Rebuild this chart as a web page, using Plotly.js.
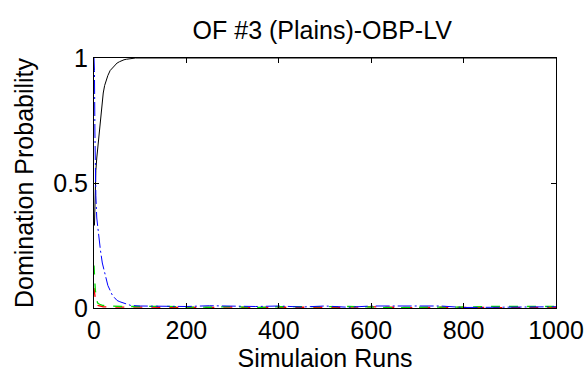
<!DOCTYPE html>
<html><head><meta charset="utf-8">
<script src="https://cdn.plot.ly/plotly-3.0.1.min.js"></script>
<style>body{margin:0;background:#fff}#c{width:587px;height:374px}</style>
</head><body><div id="c"></div>
<script>
const chartTitle = "OF #3 (Plains)-OBP-LV";
const xTitle = "Simulaion Runs";
const yTitle = "Domination Probability";
const xTicks = [0,200,400,600,800,1000];
const yTicks = [0,0.5,1];
const yTickText = ['0','0.5','1'];

const xBlack = [1,2,3,4,6,8,10,12,14,16,18,20,23,26,30,35,40,45,50,55,60,65,70,80,90,1000];
const yBlack = [0.33,0.45,0.5,0.55,0.6,0.64,0.68,0.72,0.76,0.8,0.84,0.86,0.89,0.91,0.93,0.95,0.96,0.97,0.98,0.985,0.99,0.993,0.995,0.997,1,1];

const xBlue = [0,1,2,3,4,6,8,10,14,18,22,26,30,35,40,45,50,56,65,80,100,150,200,250,300,350,400,450,500,550,600,650,700,750,800,850,900,950,1000];
const yBlue = [1,0.95,0.7,0.5,0.45,0.36,0.32,0.28,0.23,0.18,0.15,0.12,0.09,0.07,0.05,0.04,0.03,0.025,0.02,0.01,0.008,0.007,0.006,0.009,0.007,0.006,0.008,0.004,0.008,0.003,0.008,0.009,0.008,0.008,0.002,0.003,0.004,0.005,0.005];

const xGreen = [0,1,2,3,4,6,8,12,20,30,40,60,100,150,200,250,300,350,400,450,500,550,600,650,700,750,800,850,900,950,1000];
const yGreen = [0.17,0.15,0.1,0.07,0.05,0.03,0.02,0.015,0.01,0.012,0.008,0.006,0.006,0.007,0.004,0.003,0.006,0.002,0.005,0.006,0.007,0.006,0.004,0.001,0.003,0.002,0.004,0.006,0.007,0.007,0.006];

const xRed = [0,1,2,3,4,8,15,20,40,100,150,200,250,300,350,400,450,500,550,600,650,700,750,800,850,900,950,1000];
const yRed = [0.08,0.06,0.04,0.03,0.02,0.01,0.008,0.005,0.004,0.003,0.002,0.001,0.002,0.004,0.001,0.003,0.002,0.004,0.003,0.005,0.002,0.001,0.003,0.001,0.002,0.001,0.002,0.003];

const traces = [
  {x:xBlack,y:yBlack,mode:'lines',line:{color:'#000',width:1},hoverinfo:'skip'},
  {x:xRed,y:yRed,mode:'lines',line:{color:'#ff0000',width:1.3,dash:'dash'},hoverinfo:'skip'},
  {x:xGreen,y:yGreen,mode:'lines',line:{color:'#00dd00',width:1.3,dash:'dash'},hoverinfo:'skip'},
  {x:xBlue,y:yBlue,mode:'lines',line:{color:'#0000ff',width:1,dash:'14px,3px,2px,3px'},hoverinfo:'skip'}
];

const F = 'Liberation Sans, Arial, sans-serif';
const FS = 25;
const ax = {showgrid:false,zeroline:false,showline:true,mirror:'ticks',linecolor:'#000',linewidth:1,automargin:false,
  ticks:'inside',ticklen:5,tickcolor:'#000',tickfont:{family:F,size:FS,color:'#000'}};

const layout = {
  width:587,height:374,paper_bgcolor:'#fff',plot_bgcolor:'#fff',showlegend:false,
  margin:{l:94,r:31,t:58,b:66},
  title:{text:chartTitle,font:{family:F,size:FS,color:'#000'},x:0.549,xanchor:'center',y:0.92,yanchor:'middle'},
  xaxis:Object.assign({},ax,{range:[0,1000],tickvals:xTicks,
    title:{text:xTitle,font:{family:F,size:FS,color:'#000'},standoff:0}}),
  yaxis:Object.assign({},ax,{range:[0,1],tickvals:yTicks,ticktext:yTickText,
    title:{text:yTitle,font:{family:F,size:FS,color:'#000'},standoff:12}})
};
Plotly.newPlot('c',traces,layout,{staticPlot:true,displayModeBar:false});
</script></body></html>
